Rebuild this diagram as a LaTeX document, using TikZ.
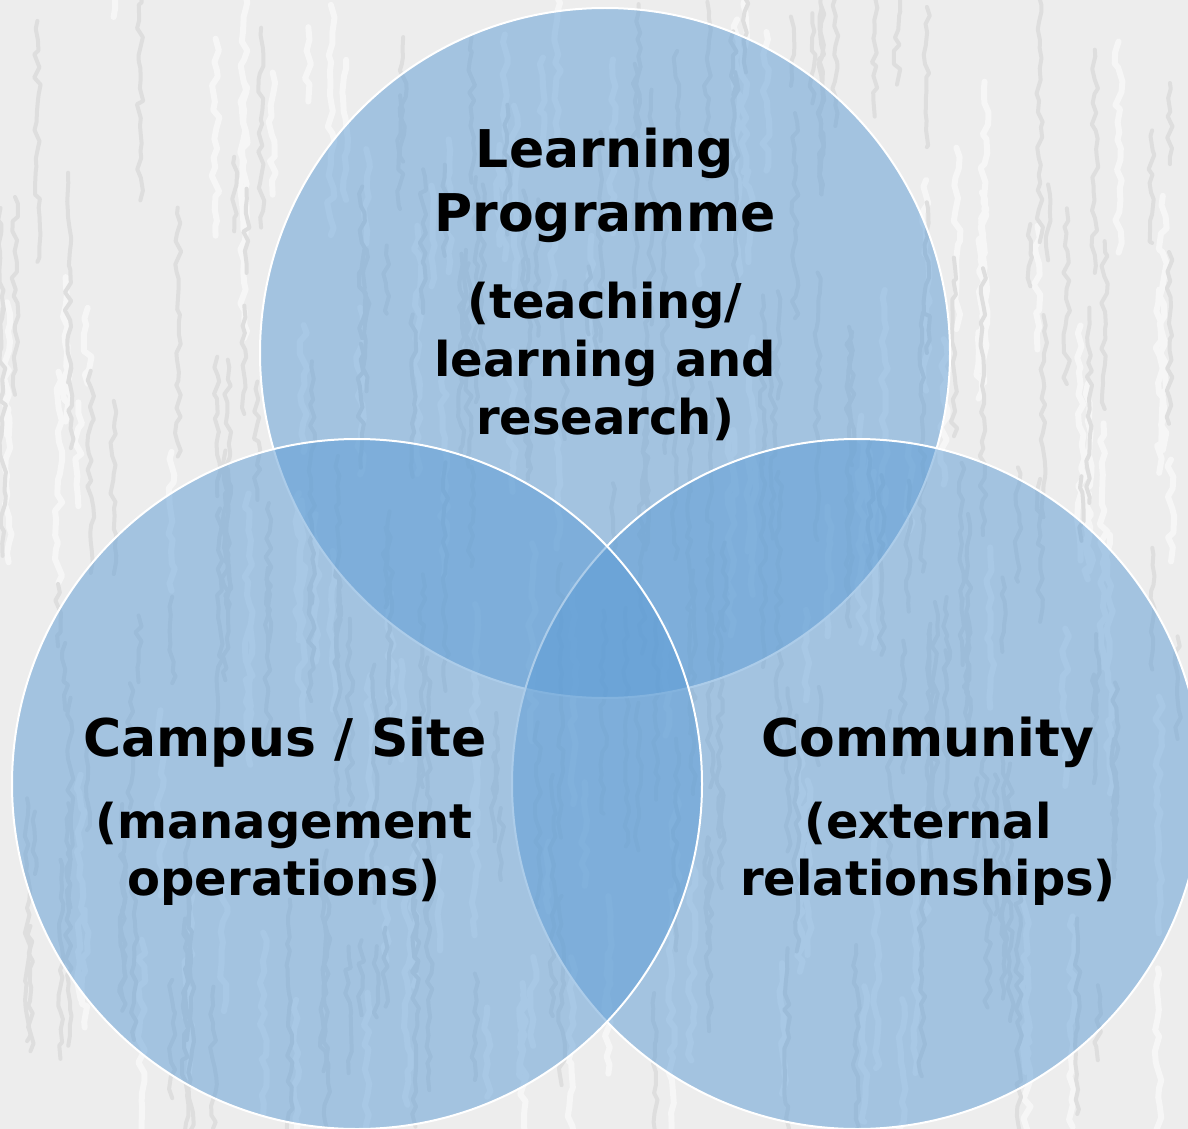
\documentclass[tikz,border=0pt]{standalone}
\usepackage{fontspec}
\setmainfont{DejaVu Sans}
\usetikzlibrary{decorations.pathmorphing}
\definecolor{bgcol}{HTML}{EDEDED}
\definecolor{streakcol}{HTML}{DEDEDE}
\definecolor{lightstreak}{HTML}{F6F6F6}
\definecolor{vennblue}{HTML}{5B9BD5}
\tikzset{
  venn/.style={circle, minimum size=690pt, inner sep=0pt, fill=vennblue, fill opacity=0.5, draw=white, draw opacity=1, line width=2pt},
  title/.style={font=\bfseries\fontsize{52}{62}\selectfont, anchor=base, inner sep=0pt},
  sub/.style={font=\bfseries\fontsize{48}{58}\selectfont, anchor=base, inner sep=0pt},
  streak/.style={draw=streakcol, line width=4pt, line cap=round, line join=round, decorate, decoration={random steps, segment length=9pt, amplitude=3.5pt}},
  hilite/.style={draw=lightstreak, line width=6pt, line cap=round, line join=round, decorate, decoration={random steps, segment length=10pt, amplitude=4pt}}
}
\begin{document}
\begin{tikzpicture}[x=1pt, y=-1pt]
\useasboundingbox (0,0) rectangle (1188,1129);
\fill[bgcol] (0,0) rectangle (1188,1129);
\pgfmathsetseed{11}
\foreach \i in {1,...,120}{
  \pgfmathsetmacro\xx{rnd*1188}
  \pgfmathsetmacro\yy{rnd*1080-60}
  \pgfmathsetmacro\ll{60+rnd*200}
  \draw[hilite] (\xx,\yy) -- ++(0,\ll);
}
\foreach \i in {1,...,200}{
  \pgfmathsetmacro\xx{rnd*1188}
  \pgfmathsetmacro\yy{rnd*1080-60}
  \pgfmathsetmacro\ll{60+rnd*220}
  \draw[streak] (\xx,\yy) -- ++(0,\ll);
}
% circles: top, right, left
\node[venn] (ctop) at (605,353) {};
\node[venn] (cright) at (857,784) {};
\node[venn] (cleft) at (357,784) {};
% top texts
\node[title] (t1) at (605,167) {Learning};
\node[title] (t2) at (605,231) {Programme};
\node[sub] (t3) at (605,318) {(teaching/};
\node[sub] (t4) at (605,376) {learning and};
\node[sub] (t5) at (605,434) {research)};
% left texts
\node[title] (l1) at (285,756) {Campus / Site};
\node[sub] (l2) at (284,838) {(management};
\node[sub] (l3) at (284,895) {operations)};
% right texts
\node[title] (r1) at (928,756) {Community};
\node[sub] (r2) at (928,838) {(external};
\node[sub] (r3) at (928,895) {relationships)};
\end{tikzpicture}
\end{document}
